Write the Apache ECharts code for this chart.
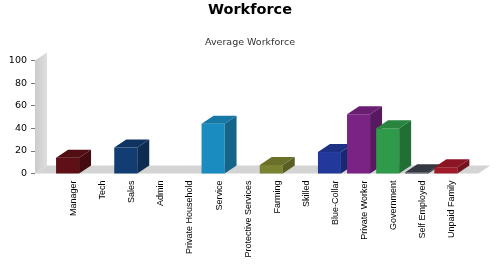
<!DOCTYPE html>
<html>
<head>
<meta charset="utf-8">
<script src="https://cdn.jsdelivr.net/npm/echarts@6/dist/echarts.min.js"></script>
<style>html,body{margin:0;padding:0;background:#fff}#c{width:500px;height:280px}</style>
</head>
<body>
<div id="c"></div>
<script>
const categories = ['Manager','Tech','Sales','Admin','Private Household','Service','Protective Services','Farming','Skilled','Blue-Collar','Private Worker','Government','Self Employed','Unpaid Family'];
const values = [14, 0, 23, 0, 0, 44, 0, 7.5, 0, 19, 52.5, 40, 1, 5.5];
const palette = ['#5e1016','#3a3a3a','#113d72','#555555','#777777','#1a8cc0','#888888','#7b8231','#999999','#22399b','#7a2384','#2f9a49','#3d414a','#a11a2a'];

const DX = 12, DY = -8, FW = 23, FOFF = 17.5;

function shade(hex, f){
  const n = parseInt(hex.slice(1), 16);
  const r = Math.round(((n >> 16) & 255) * f), g = Math.round(((n >> 8) & 255) * f), b = Math.round((n & 255) * f);
  return 'rgb(' + r + ',' + g + ',' + b + ')';
}

const chart = echarts.init(document.getElementById('c'), null, {renderer:'canvas'});
chart.setOption({
  animation:false,
  title:[
    {text:'Workforce', left:'center', top:-2, textStyle:{fontFamily:'DejaVu Sans', fontSize:14.5, fontWeight:'bold', color:'#000'}},
    {text:'Average Workforce', left:'center', top:33, textStyle:{fontFamily:'DejaVu Sans', fontSize:9.5, fontWeight:'normal', color:'#333'}}
  ],
  grid:{left:59, right:33.6, top:60.5, bottom:106.5, containLabel:false},
  xAxis:{type:'category', data:categories, boundaryGap:true,
    axisLine:{show:false}, axisTick:{show:false},
    axisLabel:{rotate:90, interval:0, margin:7, fontSize:9, color:'#000',
      fontFamily:"'Liberation Sans Narrow','Liberation Sans',sans-serif"}},
  yAxis:{type:'value', min:0, max:100, interval:20, offset:24,
    axisLine:{show:false}, splitLine:{show:false},
    axisTick:{show:true, length:4, lineStyle:{color:'#777'}},
    axisLabel:{fontFamily:'DejaVu Sans', fontSize:9.5, color:'#000', margin:8}},
  series:[
    {type:'custom', silent:true, data:[[0,0]], z:1,
     renderItem:function(params, api){
       const cs = params.coordSys;
       const left = cs.x - 24, right = cs.x + cs.width + 12;
       const base = api.coord([0,0])[1];
       const topY = api.coord([0,100])[1];
       return {type:'group', children:[
         {type:'polygon', shape:{points:[[left,topY],[left+DX,topY+DY],[left+DX,base+DY],[left,base]]},
          style:{fill:new echarts.graphic.LinearGradient(0,0,1,0,[{offset:0,color:'#cbcbcb'},{offset:1,color:'#dedede'}])}},
         {type:'polygon', shape:{points:[[left,base],[left+DX,base+DY],[right+DX,base+DY],[right,base]]},
          style:{fill:'#d4d4d4'}}
       ]};
     }},
    {type:'custom', data:values.map((v,i)=>[i,v]), z:2,
     renderItem:function(params, api){
       const i = api.value(0), v = api.value(1);
       if (!v) return null;
       const t = api.coord([i, v]), b = api.coord([i, 0]);
       const x0 = b[0] - FOFF, x1 = x0 + FW;
       const c = palette[i];
       return {type:'group', children:[
         {type:'polygon', shape:{points:[[x0,t[1]],[x1,t[1]],[x1,b[1]],[x0,b[1]]]}, style:{fill:c}},
         {type:'polygon', shape:{points:[[x1,t[1]],[x1+DX,t[1]+DY],[x1+DX,b[1]+DY],[x1,b[1]]]}, style:{fill:shade(c,0.72)}},
         {type:'polygon', shape:{points:[[x0,t[1]],[x0+DX,t[1]+DY],[x1+DX,t[1]+DY],[x1,t[1]]]}, style:{fill:shade(c,0.86)}}
       ]};
     }}
  ]
});
</script>
</body>
</html>
